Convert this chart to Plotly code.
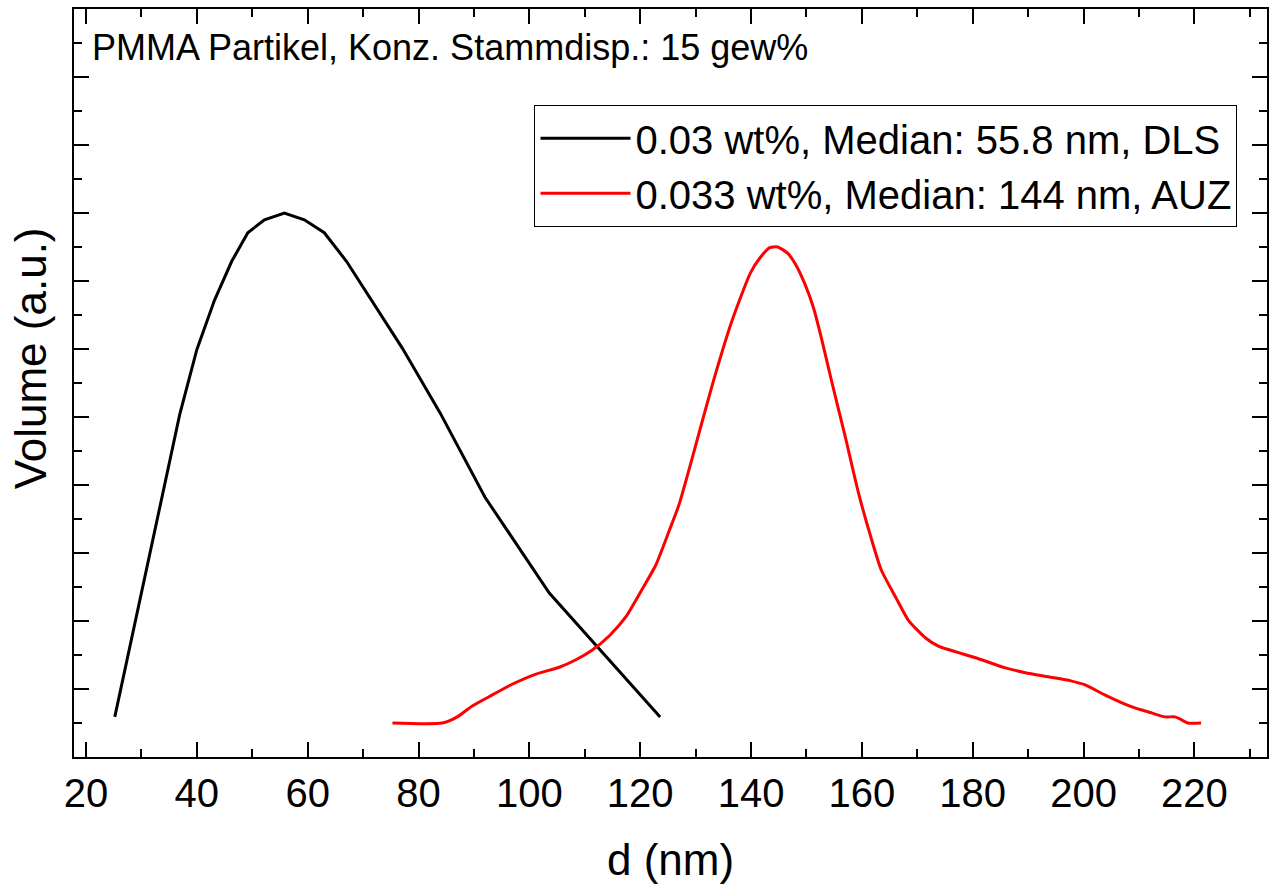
import plotly.graph_objects as go

# DLS curve (0.03 wt%)
dls_d = [25.2, 36.9, 40.0, 43.2, 46.3, 49.2, 52.2, 55.8, 59.4, 63.0, 67.0,
         77.1, 83.9, 92.0, 103.6, 123.6]
dls_v = [0.59, 5.03, 5.99, 6.72, 7.29, 7.71, 7.90, 8.00, 7.90, 7.71, 7.29,
         6.01, 5.06, 3.82, 2.41, 0.59]

# AUZ curve (0.033 wt%)
auz_d = [75.3, 84.3, 87.0, 89.7, 92.8, 96.9, 101.2, 105.4, 108.4, 111.3, 114.4,
         117.4, 120.3, 122.8, 125.2, 127.0, 129.3, 132.9, 136.5, 139.9, 141.7,
         143.4, 144.8, 146.6, 148.0, 149.8, 151.3, 152.7, 154.5, 157.0, 159.4,
         161.6, 163.5, 166.1, 168.4, 171.5, 173.8, 180.5, 185.9, 189.5, 193.6,
         197.7, 200.3, 203.9, 208.6, 212.2, 214.7, 216.5, 217.4, 218.8, 221.2]
auz_v = [0.50, 0.50, 0.59, 0.75, 0.89, 1.07, 1.22, 1.32, 1.43, 1.57, 1.78,
         2.06, 2.46, 2.82, 3.32, 3.71, 4.37, 5.44, 6.40, 7.12, 7.35,
         7.49, 7.50, 7.41, 7.25, 6.94, 6.60, 6.16, 5.54, 4.71, 3.88,
         3.24, 2.75, 2.35, 2.01, 1.75, 1.63, 1.46, 1.31, 1.24, 1.18,
         1.12, 1.06, 0.91, 0.74, 0.65, 0.59, 0.59, 0.56, 0.50, 0.50]

names = ["0.03 wt%, Median: 55.8 nm, DLS", "0.033 wt%, Median: 144 nm, AUZ"]
x_title = "d (nm)"
y_title = "Volume (a.u.)"
note = "PMMA Partikel, Konz. Stammdisp.: 15 gew%"

FONT = "Liberation Sans, Arial, sans-serif"

fig = go.Figure()
fig.add_trace(go.Scatter(x=dls_d, y=dls_v, mode="lines", name=names[0],
                         line=dict(color="black", width=3)))
fig.add_trace(go.Scatter(x=auz_d, y=auz_v, mode="lines", name=names[1],
                         line=dict(color="#ff0000", width=3, shape="spline", smoothing=0.6)))

axis_common = dict(showline=True, linecolor="black", linewidth=2, mirror="ticks",
                   ticks="inside", ticklen=15, tickwidth=2, tickcolor="black",
                   showgrid=False, zeroline=False)

fig.update_xaxes(range=[17.84, 233.1], tick0=20, dtick=20,
                 tickfont=dict(family=FONT, size=40, color="black"),
                 minor=dict(ticks="inside", ticklen=8, tickwidth=2, tickcolor="black", dtick=10),
                 title=dict(text=x_title, font=dict(family=FONT, size=44, color="black"), standoff=30),
                 **axis_common)
fig.update_yaxes(range=[0, 11], tick0=0, dtick=1, showticklabels=False,
                 minor=dict(ticks="inside", ticklen=8, tickwidth=2, tickcolor="black", dtick=0.5),
                 **axis_common)

fig.add_annotation(text=y_title, textangle=-90, xref="paper", yref="paper",
                   x=-0.037, y=0.533, xanchor="center", yanchor="middle", showarrow=False,
                   font=dict(family=FONT, size=44, color="black"))
fig.add_annotation(text=note, xref="paper", yref="paper", x=0.0135, y=0.949,
                   xanchor="left", yanchor="middle", showarrow=False,
                   font=dict(family=FONT, size=36, color="black"))

fig.update_layout(
    width=1270, height=889,
    margin=dict(l=74, r=1, t=9, b=132),
    plot_bgcolor="white", paper_bgcolor="white",
    legend=dict(x=0.386, y=0.872, xanchor="left", yanchor="top",
                bordercolor="black", borderwidth=1, bgcolor="white",
                itemwidth=90,
                font=dict(family=FONT, size=40, color="black")),
)

fig.write_html("out.html")
